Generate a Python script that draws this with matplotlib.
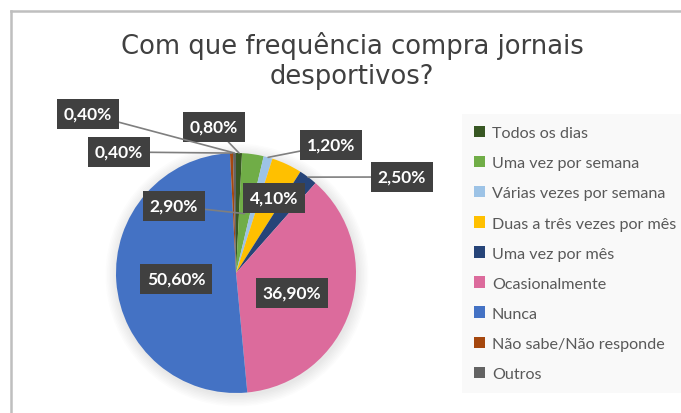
import matplotlib
matplotlib.use("Agg")
import matplotlib.pyplot as plt
from matplotlib.patches import Patch, Circle
from matplotlib.lines import Line2D
import numpy as np

categories = ["Todos os dias", "Uma vez por semana", "Várias vezes por semana",
              "Duas a três vezes por mês", "Uma vez por mês", "Ocasionalmente",
              "Nunca", "Não sabe/Não responde", "Outros"]
values = [0.8, 2.9, 1.2, 4.1, 2.5, 36.9, 50.6, 0.4, 0.4]
labels = ["0,80%", "2,90%", "1,20%", "4,10%", "2,50%", "36,90%", "50,60%", "0,40%", "0,40%"]
title = "Com que frequência compra jornais\ndesportivos?"

colors = ["#385723", "#70ad47", "#9dc3e6", "#ffc000", "#264478",
          "#dc6b9c", "#4472c4", "#a5470e", "#636363"]

W, H = 681, 414
fig = plt.figure(figsize=(W / 100, H / 100), dpi=100)
fig.patch.set_facecolor("white")
ax = fig.add_axes([0, 0, 1, 1])
ax.set_xlim(0, W)
ax.set_ylim(0, H)
ax.set_aspect("equal")
ax.axis("off")

cx, cy, R = 236, H - 274, 120

# soft shadow
for i in range(8):
    ax.add_patch(Circle((cx + 1, cy - 2), R + 1 + i * 1.5, color="black",
                        alpha=0.012, lw=0, zorder=0))

wedges, _ = ax.pie(values, colors=colors, startangle=90, counterclock=False,
                   center=(cx, cy), radius=R, frame=True,
                   wedgeprops=dict(linewidth=0))
ax.set_xlim(0, W)
ax.set_ylim(0, H)
ax.axis("off")

# label box centres (pixel coords in image, y from top) and leader flags
label_pos = [(214, 128), (174, 207), (331, 146), (274, 199), (402, 178),
             (292, 294), (176, 280), (119, 153), (88, 115)]
leader = [True, True, True, False, True, False, False, True, True]
leader_r = [1.0, 0.5, 1.0, 1.0, 1.0, 1.0, 1.0, 1.0, 1.0]

for w, lab, (px, py), ld, lr in zip(wedges, labels, label_pos, leader, leader_r):
    ang = np.deg2rad((w.theta1 + w.theta2) / 2)
    xy = (cx + R * lr * np.cos(ang), cy + R * lr * np.sin(ang))
    ap = dict(arrowstyle="-", color="#7f7f7f", lw=1.2, shrinkA=0, shrinkB=0) if ld else None
    ax.annotate(lab, xy=xy, xytext=(px, H - py), ha="center", va="center",
                fontsize=12.5, fontweight="bold", color="white", family="Lato",
                bbox=dict(boxstyle="square,pad=0.4", fc="#404040", ec="none"),
                arrowprops=ap, zorder=5)

# title
fig.text(352 / W, 1 - 61 / H, title, ha="center", va="center", fontsize=18.6,
         color="#404040", family="DejaVu Sans", linespacing=1.25)

# legend
handles = [Patch(facecolor=c, edgecolor="none") for c in colors]
leg = fig.legend(handles, categories, loc="upper left",
                 bbox_to_anchor=(462 / W, 1 - 115 / H), frameon=True,
                 prop=dict(family="Lato", size=11.6), labelcolor="#595959",
                 handlelength=0.7, handleheight=0.7, handletextpad=0.4,
                 labelspacing=0.98, borderaxespad=0, borderpad=0.75,
                 fancybox=False)
leg.get_frame().set_facecolor("#f8f8f8")
leg.get_frame().set_edgecolor("none")

# chart border (left and top)
fig.add_artist(Line2D([10.5 / W, 10.5 / W], [0, 1 - 12 / H], color="#bfbfbf",
                      lw=1.8, transform=fig.transFigure))
fig.add_artist(Line2D([10.5 / W, 1], [1 - 12 / H, 1 - 12 / H], color="#bfbfbf",
                      lw=1.8, transform=fig.transFigure))

fig.savefig("out.png", dpi=100)
